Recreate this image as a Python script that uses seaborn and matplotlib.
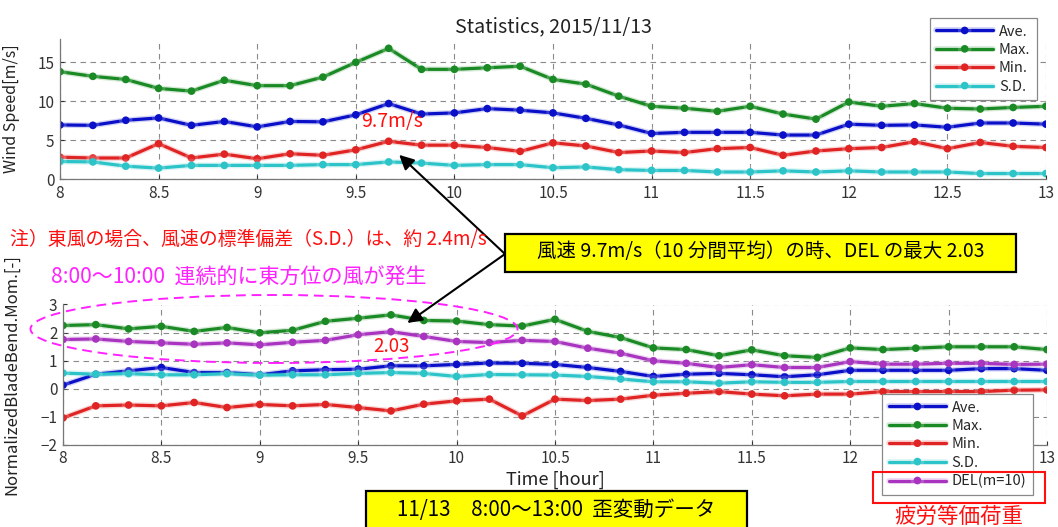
import numpy as np
import pandas as pd
import matplotlib
matplotlib.use("Agg")
import matplotlib.pyplot as plt
import matplotlib.patches as mpatches
import matplotlib.patheffects as pe
import seaborn as sns

# 10-minute statistics, 2015/11/13 08:00-13:00
clock = ["8:00", "8:10", "8:20", "8:30", "8:40", "8:50",
         "9:00", "9:10", "9:20", "9:30", "9:40", "9:50",
         "10:00", "10:10", "10:20", "10:30", "10:40", "10:50",
         "11:00", "11:10", "11:20", "11:30", "11:40", "11:50",
         "12:00", "12:10", "12:20", "12:30", "12:40", "12:50", "13:00"]

# Wind speed [m/s]
ws_ave = [6.95, 6.9, 7.55, 7.85, 6.9, 7.4, 6.7, 7.4, 7.35, 8.25, 9.7, 8.35, 8.5, 9.05, 8.85,
          8.5, 7.8, 6.95, 5.85, 6.0, 6.0, 6.0, 5.65, 5.65, 7.05, 6.9, 6.95, 6.65, 7.2, 7.2, 7.05]
ws_max = [13.8, 13.2, 12.8, 11.65, 11.3, 12.7, 12.0, 12.0, 13.1, 15.0, 16.8, 14.1, 14.1, 14.3, 14.5,
          12.8, 12.2, 10.65, 9.35, 9.1, 8.7, 9.35, 8.35, 7.7, 9.9, 9.35, 9.7, 9.1, 9.0, 9.2, 9.35]
ws_min = [2.8, 2.7, 2.7, 4.55, 2.7, 3.2, 2.6, 3.25, 3.05, 3.75, 4.85, 4.35, 4.35, 4.05, 3.55,
          4.65, 4.25, 3.4, 3.6, 3.4, 3.9, 4.05, 3.05, 3.6, 3.9, 4.05, 4.8, 3.9, 4.7, 4.2, 4.05]
ws_sd = [2.25, 2.2, 1.65, 1.4, 1.75, 1.75, 1.75, 1.75, 1.85, 1.85, 2.2, 2.05, 1.75, 1.85, 1.85,
         1.45, 1.55, 1.2, 1.1, 1.1, 0.9, 0.9, 1.05, 0.9, 1.05, 0.9, 0.9, 0.9, 0.7, 0.7, 0.7]

# Normalized blade bending moment [-]
bm_ave = [0.12, 0.51, 0.63, 0.75, 0.57, 0.57, 0.49, 0.63, 0.67, 0.69, 0.81, 0.81, 0.86, 0.91, 0.9,
          0.86, 0.75, 0.61, 0.43, 0.51, 0.54, 0.49, 0.42, 0.49, 0.65, 0.65, 0.65, 0.65, 0.71, 0.71, 0.65]
bm_max = [2.25, 2.28, 2.13, 2.22, 2.04, 2.18, 1.99, 2.08, 2.4, 2.51, 2.63, 2.43, 2.41, 2.28, 2.23,
          2.47, 2.04, 1.82, 1.45, 1.39, 1.17, 1.38, 1.17, 1.11, 1.45, 1.39, 1.44, 1.49, 1.49, 1.49, 1.39]
bm_min = [-1.05, -0.62, -0.59, -0.62, -0.5, -0.68, -0.57, -0.62, -0.57, -0.68, -0.8, -0.56, -0.44, -0.38, -0.98,
          -0.38, -0.43, -0.38, -0.24, -0.17, -0.11, -0.2, -0.26, -0.2, -0.2, -0.11, -0.11, -0.11, -0.11, -0.06, -0.05]
bm_sd = [0.55, 0.51, 0.53, 0.49, 0.49, 0.53, 0.48, 0.49, 0.49, 0.54, 0.57, 0.54, 0.43, 0.5, 0.49,
         0.48, 0.43, 0.34, 0.24, 0.24, 0.19, 0.24, 0.22, 0.22, 0.25, 0.25, 0.25, 0.25, 0.25, 0.25, 0.25]
bm_del = [1.75, 1.77, 1.68, 1.63, 1.58, 1.63, 1.56, 1.65, 1.72, 1.92, 2.03, 1.86, 1.68, 1.64, 1.72,
          1.68, 1.44, 1.26, 0.99, 0.9, 0.75, 0.85, 0.75, 0.75, 0.96, 0.87, 0.87, 0.9, 0.9, 0.86, 0.87]

labels_ws = ["Ave.", "Max.", "Min.", "S.D."]
labels_bm = ["Ave.", "Max.", "Min.", "S.D.", "DEL(m=10)"]
colors = ["#0a10c8", "#1a8a24", "#e02424", "#2cc4c8", "#a834c0"]

xt = [8, 8.5, 9, 9.5, 10, 10.5, 11, 11.5, 12, 12.5, 13]
xtl_top = ["8", "8.5", "9", "9.5", "10", "10.5", "11", "11.5", "12", "12.5", "13"]
# the 12.5 label of the lower panel sits behind its legend
xtl_bottom = ["8", "8.5", "9", "9.5", "10", "10.5", "11", "11.5", "12", "", "13"]

hours = np.array([int(c.split(":")[0]) + int(c.split(":")[1]) / 60 for c in clock])

sns.set_style("ticks")
plt.rcParams["font.family"] = ["Noto Sans CJK JP", "DejaVu Sans"]

W, H = 1058, 527
fig = plt.figure(figsize=(W / 100, H / 100), dpi=100)


def fx(px):
    return px / W


def fy(py):
    return 1 - py / H


ax1 = fig.add_axes([fx(60), fy(179), fx(1046) - fx(60), fy(39) - fy(179)])
ax2 = fig.add_axes([fx(63), fy(444.5), fx(1047) - fx(63), fy(304.5) - fy(444.5)])

glow = [pe.Stroke(linewidth=4.2, alpha=0.18), pe.Normal()]


def draw_series(ax, series, names):
    for vals, name, col in zip(series, names, colors):
        sns.lineplot(x=hours, y=vals, ax=ax, color=col, label=name, marker="o",
                     markersize=5.5, markeredgewidth=0, linewidth=2.3,
                     path_effects=glow)


draw_series(ax1, [ws_ave, ws_max, ws_min, ws_sd], labels_ws)
draw_series(ax2, [bm_ave, bm_max, bm_min, bm_sd, bm_del], labels_bm)

for ax, xtl in ((ax1, xtl_top), (ax2, xtl_bottom)):
    ax.set_xlim(8, 13)
    ax.set_xticks(xt)
    ax.set_xticklabels(xtl)
    ax.grid(True, linestyle=(0, (5, 4)), color="#8a8a8a", linewidth=0.8)
    ax.tick_params(direction="in", length=3, labelsize=11, colors="#333333", pad=4)
    for s in ("top", "right"):
        ax.spines[s].set_visible(False)
    for s in ("left", "bottom"):
        ax.spines[s].set_color("#777777")
        ax.spines[s].set_linewidth(0.9)
    ax.set_facecolor("white")

ax1.set_ylim(0, 18)
ax1.set_yticks([0, 5, 10, 15])
ax2.set_ylim(-2, 3)
ax2.set_yticks([-2, -1, 0, 1, 2, 3])

ax1.set_xlabel("")
ax1.set_ylabel("Wind Speed[m/s]", fontsize=11.5, color="#222222")
ax1.yaxis.set_label_coords((20 - 60) / 986, 0.5)
ax1.set_title("Statistics, 2015/11/13", fontsize=14.2, color="#222222", pad=5)

ax2.set_xlabel("Time [hour]", fontsize=13, color="#222222", labelpad=3)
ax2.set_ylabel("NormalizedBladeBend.Mom.[-]", fontsize=12, color="#222222")
ax2.yaxis.set_label_coords((20 - 63) / 984, 0.5)

leg_kw = dict(title=None, frameon=True, fancybox=False, framealpha=1,
              edgecolor="#888888", fontsize=10.5, handlelength=3.9,
              labelspacing=0.3, borderpad=0.45, handletextpad=0.4,
              borderaxespad=0, bbox_transform=fig.transFigure)
sns.move_legend(ax1, "upper right", bbox_to_anchor=(fx(1037), fy(18)), **leg_kw)
sns.move_legend(ax2, "upper right", bbox_to_anchor=(fx(1033), fy(394)), **leg_kw)
for ax in (ax1, ax2):
    ax.get_legend().get_frame().set_linewidth(0.9)
    ax.get_legend().set_zorder(10)

# value labels
fig.text(fx(392), fy(122), "9.7m/s", color="#ff1010", fontsize=14,
         ha="center", va="center")
fig.text(fx(391), fy(347), "2.03", color="#ff1010", fontsize=13.5,
         ha="center", va="center")

# notes
fig.text(fx(10), fy(240), "注）東風の場合、風速の標準偏差（S.D.）は、約 2.4m/s",
         color="#ff1010", fontsize=13.6, ha="left", va="center", zorder=9)
fig.text(fx(51), fy(278), "8:00～10:00  連続的に東方位の風が発生",
         color="#ff22ff", fontsize=15.1, ha="left", va="center")

# highlighted boxes
box1 = mpatches.Rectangle((fx(505), fy(272)), fx(1016) - fx(505), fy(233.5) - fy(272),
                          transform=fig.transFigure, facecolor="#ffff00",
                          edgecolor="black", linewidth=1.6, zorder=5)
fig.add_artist(box1)
fig.text(fx(761), fy(252), "風速 9.7m/s（10 分間平均）の時、DEL の最大 2.03",
         fontsize=14, ha="center", va="center", color="black", zorder=6)

box2 = mpatches.Rectangle((fx(366), fy(530)), fx(747) - fx(366), fy(491) - fy(530),
                          transform=fig.transFigure, facecolor="#ffff00",
                          edgecolor="black", linewidth=1.6, zorder=5)
fig.add_artist(box2)
fig.text(fx(556), fy(510), "11/13　8:00～13:00  歪変動データ",
         fontsize=14.8, ha="center", va="center", color="black", zorder=6)

# DEL legend entry highlight
box3 = mpatches.Rectangle((fx(873), fy(503)), fx(1045) - fx(873), fy(472) - fy(503),
                          transform=fig.transFigure, facecolor="none",
                          edgecolor="#ff1010", linewidth=1.5, zorder=12)
fig.add_artist(box3)
fig.text(fx(959), fy(517), "疲労等価荷重", color="#ff1010", fontsize=15.5,
         ha="center", va="center")

# east-wind period
ell = mpatches.Ellipse((fx(274), fy(329)), fx(487), 68 / H,
                       transform=fig.transFigure, facecolor="none",
                       edgecolor="#ff22ff", linewidth=1.4, linestyle=(0, (5, 3)),
                       zorder=8)
fig.add_artist(ell)

# arrows from the box to the peak points
arrow_kw = dict(arrowstyle="-|>", color="black", lw=1.5, mutation_scale=22,
                shrinkA=0, shrinkB=0)
ax1.annotate("", xy=(9.72, 3.1), xycoords="data",
             xytext=(fx(505), fy(254)), textcoords="figure fraction",
             arrowprops=arrow_kw, annotation_clip=False)
ax2.annotate("", xy=(9.75, 2.34), xycoords="data",
             xytext=(fx(505), fy(254)), textcoords="figure fraction",
             arrowprops=arrow_kw, annotation_clip=False)

fig.savefig("out.png", dpi=100, facecolor="white")
